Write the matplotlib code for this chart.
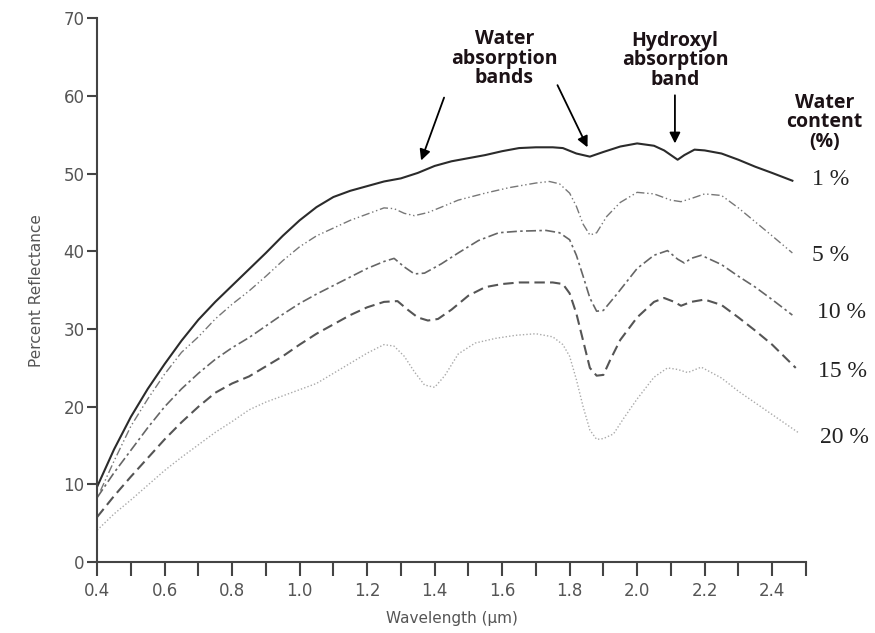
#!/usr/bin/env python3
"""Soil reflectance spectra at different water contents."""

import matplotlib
matplotlib.use("Agg")
import matplotlib.pyplot as plt

# wavelength (um) / percent reflectance read for each water content
wl_1 = [0.40, 0.45, 0.50, 0.55, 0.60, 0.65, 0.70, 0.75, 0.80, 0.85, 0.90, 0.95, 1.00, 1.05,
        1.10, 1.15, 1.20, 1.25, 1.30, 1.35, 1.40, 1.45, 1.50, 1.55, 1.60, 1.65, 1.70, 1.75,
        1.78, 1.82, 1.86, 1.90, 1.95, 2.00, 2.05, 2.08, 2.10, 2.12, 2.14, 2.17, 2.20, 2.25,
        2.30, 2.35, 2.40, 2.46]
refl_1 = [9.7, 14.5, 18.7, 22.3, 25.5, 28.5, 31.2, 33.5, 35.6, 37.7, 39.8, 42.0, 44.0, 45.7,
          47.0, 47.8, 48.4, 49.0, 49.4, 50.1, 51.0, 51.6, 52.0, 52.4, 52.9, 53.3, 53.4, 53.4,
          53.3, 52.6, 52.2, 52.8, 53.5, 53.9, 53.6, 53.0, 52.4, 51.8, 52.4, 53.1, 53.0, 52.6,
          51.8, 50.9, 50.1, 49.1]

wl_5 = [0.41, 0.45, 0.50, 0.55, 0.60, 0.65, 0.70, 0.75, 0.80, 0.85, 0.90, 0.95, 1.00, 1.05,
        1.10, 1.15, 1.20, 1.25, 1.28, 1.31, 1.34, 1.38, 1.42, 1.47, 1.55, 1.62, 1.70, 1.74,
        1.77, 1.80, 1.82, 1.84, 1.86, 1.88, 1.91, 1.95, 2.00, 2.05, 2.10, 2.13, 2.16, 2.20,
        2.25, 2.30, 2.35, 2.40, 2.46]
refl_5 = [9.2, 13.0, 17.5, 21.0, 24.2, 27.0, 29.0, 31.3, 33.2, 34.9, 36.8, 38.8, 40.6, 42.0,
          43.0, 44.0, 44.8, 45.6, 45.5, 44.9, 44.6, 45.0, 45.7, 46.6, 47.5, 48.2, 48.8, 49.0,
          48.7, 47.5, 45.8, 43.5, 42.1, 42.4, 44.5, 46.3, 47.6, 47.4, 46.6, 46.4, 46.8, 47.4,
          47.2, 45.6, 43.8, 42.0, 39.8]

wl_10 = [0.40, 0.45, 0.50, 0.55, 0.60, 0.65, 0.70, 0.75, 0.80, 0.85, 0.90, 0.95, 1.00, 1.05,
         1.10, 1.15, 1.20, 1.25, 1.28, 1.31, 1.34, 1.37, 1.42, 1.47, 1.53, 1.59, 1.65, 1.73,
         1.77, 1.80, 1.82, 1.84, 1.86, 1.88, 1.90, 1.94, 2.00, 2.05, 2.09, 2.12, 2.14, 2.16,
         2.19, 2.25, 2.30, 2.35, 2.40, 2.46]
refl_10 = [8.3, 11.5, 14.4, 17.3, 20.0, 22.3, 24.3, 26.1, 27.6, 28.9, 30.4, 31.9, 33.3, 34.5,
           35.6, 36.7, 37.8, 38.7, 39.1, 38.0, 37.1, 37.2, 38.4, 39.8, 41.4, 42.4, 42.6, 42.7,
           42.4, 41.5, 39.5, 36.8, 34.0, 32.3, 32.4, 34.5, 37.8, 39.5, 40.1, 39.0, 38.5, 39.1,
           39.5, 38.3, 36.8, 35.4, 33.8, 31.8]

wl_15 = [0.40, 0.45, 0.50, 0.55, 0.60, 0.65, 0.70, 0.75, 0.80, 0.85, 0.90, 0.95, 1.00, 1.05,
         1.10, 1.15, 1.20, 1.25, 1.29, 1.32, 1.35, 1.38, 1.41, 1.45, 1.50, 1.55, 1.60, 1.65,
         1.70, 1.75, 1.78, 1.80, 1.82, 1.84, 1.86, 1.88, 1.90, 1.92, 1.95, 2.00, 2.05, 2.08,
         2.11, 2.13, 2.16, 2.20, 2.25, 2.30, 2.35, 2.40, 2.47]
refl_15 = [5.8, 8.5, 11.0, 13.4, 15.8, 18.0, 20.0, 21.8, 23.0, 23.9, 25.2, 26.5, 28.0, 29.4,
           30.6, 31.8, 32.8, 33.5, 33.6, 32.5, 31.5, 31.1, 31.3, 32.5, 34.3, 35.4, 35.8, 36.0,
           36.0, 36.0, 35.8, 34.6, 32.0, 28.5, 25.0, 24.0, 24.1, 26.0, 28.6, 31.5, 33.5, 34.0,
           33.5, 33.0, 33.5, 33.8, 33.1, 31.5, 29.8, 28.0, 25.0]

wl_20 = [0.40, 0.45, 0.50, 0.55, 0.60, 0.65, 0.70, 0.75, 0.80, 0.85, 0.90, 0.95, 1.00, 1.05,
         1.10, 1.15, 1.20, 1.25, 1.28, 1.31, 1.34, 1.37, 1.40, 1.43, 1.47, 1.52, 1.58, 1.64,
         1.70, 1.75, 1.78, 1.80, 1.82, 1.84, 1.86, 1.88, 1.90, 1.93, 1.96, 2.00, 2.05, 2.09,
         2.12, 2.15, 2.19, 2.25, 2.30, 2.35, 2.40, 2.48]
refl_20 = [4.1, 6.2, 8.0, 9.9, 11.8, 13.5, 15.1, 16.7, 18.1, 19.6, 20.6, 21.4, 22.2, 23.0,
           24.3, 25.6, 26.9, 28.0, 27.8, 26.5, 24.5, 22.8, 22.5, 24.0, 26.8, 28.2, 28.8, 29.2,
           29.4, 29.0, 28.0, 26.5, 23.5, 20.0, 17.0, 15.8, 15.9, 16.5, 18.5, 21.0, 23.8, 25.0,
           24.8, 24.4, 25.1, 23.7, 22.0, 20.5, 19.0, 16.6]

content_labels = ["1 %", "5 %", "10 %", "15 %", "20 %"]
x_ticks = [0.4, 0.6, 0.8, 1.0, 1.2, 1.4, 1.6, 1.8, 2.0, 2.2, 2.4]
y_ticks = [0, 10, 20, 30, 40, 50, 60, 70]


def main() -> None:
    fig = plt.figure(figsize=(8.75, 6.33), dpi=100)
    ax = fig.add_axes([0.111, 0.112, 0.810, 0.859])

    series = [(wl_1, refl_1), (wl_5, refl_5), (wl_10, refl_10), (wl_15, refl_15), (wl_20, refl_20)]
    styles = [
        dict(color="#2b2b2b", lw=1.5, ls="-"),
        dict(color="#777777", lw=1.0, ls=(0, (6, 2, 1, 2, 1, 2))),
        dict(color="#666666", lw=1.2, ls=(0, (6, 2, 1.5, 2))),
        dict(color="#555555", lw=1.5, ls=(0, (5, 2.5))),
        dict(color="#aaaaaa", lw=1.0, ls=(0, (1, 1.5))),
    ]
    for (x, y), st in zip(series, styles):
        ax.plot(x, y, **st)

    # percentage labels to the right of the curves
    label_pos = [(2.519, 49.2), (2.519, 39.5), (2.534, 32.1), (2.537, 24.6), (2.543, 16.0)]
    for txt, (lx, ly) in zip(content_labels, label_pos):
        ax.text(lx, ly, txt, fontsize=17, family="Liberation Serif", color="#222222",
                va="center", ha="left", clip_on=False)

    ticks_all = [0.4 + 0.1 * i for i in range(22)]
    ax.set_xlim(0.4, 2.5)
    ax.set_ylim(0, 70)
    ax.set_xticks(ticks_all)
    ax.set_xticklabels([f"{t:.1f}" if any(abs(t - v) < 1e-6 for v in x_ticks) else ""
                        for t in ticks_all])
    ax.set_yticks(y_ticks)
    for s in ["top", "right"]:
        ax.spines[s].set_visible(False)
    for s in ["left", "bottom"]:
        ax.spines[s].set_color("#444444")
        ax.spines[s].set_linewidth(1.5)
    ax.tick_params(axis="x", length=10, width=1.5, color="#444444", labelcolor="#555555",
                   labelsize=12, pad=4)
    ax.tick_params(axis="y", length=7, width=1.5, color="#444444", labelcolor="#555555",
                   labelsize=12, pad=2)
    ax.set_xlabel("Wavelength (\u00b5m)", fontsize=11, color="#555555", labelpad=8)
    ax.set_ylabel("Percent Reflectance", fontsize=11, color="#555555", labelpad=14)

    note = dict(fontsize=14, family="Open Sans", weight="bold", color="#1c1216",
                ha="center", va="center", linespacing=0.95)
    ax.text(1.607, 64.8, "Water\nabsorption\nbands", clip_on=False, **note)
    ax.text(2.112, 64.6, "Hydroxyl\nabsorption\nband", clip_on=False, **note)
    ax.text(2.555, 56.6, "Water\ncontent\n(%)", clip_on=False, **note)

    arrow = dict(arrowstyle="-|>", color="black", lw=1.3, mutation_scale=16,
                 shrinkA=0, shrinkB=0)
    ax.annotate("", xy=(1.36, 51.7), xytext=(1.428, 59.8), arrowprops=arrow, annotation_clip=False)
    ax.annotate("", xy=(1.853, 53.4), xytext=(1.764, 61.4), arrowprops=arrow, annotation_clip=False)
    ax.annotate("", xy=(2.112, 53.9), xytext=(2.112, 60.1), arrowprops=arrow, annotation_clip=False)

    fig.savefig("out.png", dpi=100)
    plt.close(fig)


if __name__ == "__main__":
    main()
